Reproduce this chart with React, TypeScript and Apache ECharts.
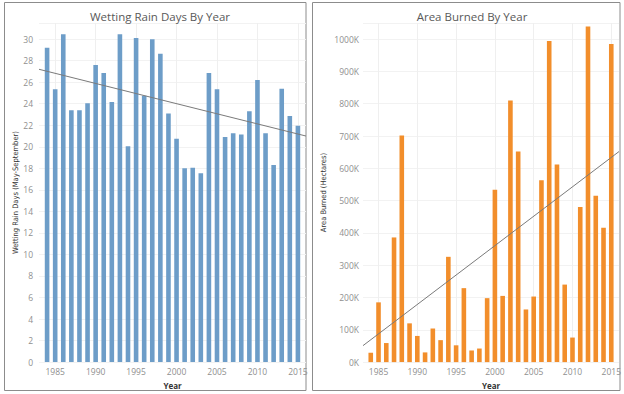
import React, { useEffect, useRef } from 'react';
import * as echarts from 'echarts';

const years = [
  '1984', '1985', '1986', '1987', '1988', '1989', '1990', '1991', '1992', '1993',
  '1994', '1995', '1996', '1997', '1998', '1999', '2000', '2001', '2002', '2003',
  '2004', '2005', '2006', '2007', '2008', '2009', '2010', '2011', '2012', '2013',
  '2014', '2015',
];
const padStart = '1983';
const padEnd = '2016';

const rainDays = [
  29.2, 25.35, 30.45, 23.4, 23.4, 24.05, 27.6, 26.85, 24.15, 30.45,
  20.05, 30.1, 24.75, 30.0, 28.65, 23.1, 20.75, 18.0, 18.05, 17.55,
  26.85, 25.35, 20.9, 21.25, 21.15, 23.3, 26.2, 21.25, 18.3, 25.4,
  22.85, 21.95,
];
const areaBurned = [
  29000, 185000, 59000, 386000, 702000, 120000, 81000, 30000, 104000, 68000,
  326000, 52000, 229000, 36000, 42000, 198000, 534000, 205000, 810000, 652000,
  163000, 203000, 563000, 994000, 612000, 240000, 76000, 480000, 1039000, 515000,
  416000, 985000,
];
// trend line end values at the plot edges (1983 and 2016)
const rainTrend = [27.2, 21.0];
const burnTrend = [51000, 652000];

const rainTitle = 'Wetting Rain Days By Year';
const burnTitle = 'Area Burned By Year';
const rainAxisName = 'Wetting Rain Days (May-September)';
const burnAxisName = 'Area Burned (Hectares)';
const xAxisName = 'Year';

const cats = [padStart, ...years, padEnd];
const padded = (arr: number[]) => [null, ...arr, null];
const trendData = (ends: number[]) =>
  cats.map((_, i) => (i === 0 ? ends[0] : i === cats.length - 1 ? ends[1] : null));

const FONT = '"Open Sans", Lato, sans-serif';
const NARROW = '"Liberation Sans Narrow", "DejaVu Sans Condensed", sans-serif';

export default function App() {
  const ref = useRef<HTMLDivElement>(null);
  useEffect(() => {
    if (!ref.current) return;
    const chart = echarts.init(ref.current, undefined, { renderer: 'svg' });
    const xAxisBase = (gridIndex: number) => ({
      type: 'category',
      gridIndex,
      data: cats,
      boundaryGap: false,
      name: xAxisName,
      nameLocation: 'middle',
      nameGap: 18,
      nameTextStyle: { fontFamily: FONT, fontSize: 8, fontWeight: 'bold', color: '#333' },
      axisLine: { show: false },
      axisTick: { show: false },
      axisLabel: {
        interval: (i: number, v: string) => Number(v) % 5 === 0,
        margin: 5,
        color: '#8f8f8f',
        fontFamily: FONT,
        fontSize: 8.5,
      },
      splitLine: {
        show: true,
        interval: (i: number, v: string) => Number(v) % 5 === 0,
        lineStyle: { color: '#efefef', width: 1 },
      },
    });
    chart.setOption({
      animation: false,
      title: [
        {
          text: rainTitle,
          left: 155,
          top: 5,
          textAlign: 'center',
          textStyle: { fontFamily: FONT, fontSize: 11.5, fontWeight: 'normal', color: '#595959' },
        },
        {
          text: burnTitle,
          left: 467,
          top: 5,
          textAlign: 'center',
          textStyle: { fontFamily: FONT, fontSize: 11.5, fontWeight: 'normal', color: '#595959' },
        },
      ],
      graphic: [
        { type: 'rect', shape: { x: 4.5, y: 2.5, width: 301.5, height: 388 }, style: { fill: 'none', stroke: '#8c8c8c', lineWidth: 1 }, silent: true },
        { type: 'rect', shape: { x: 312.5, y: 2.5, width: 307.5, height: 388 }, style: { fill: 'none', stroke: '#8c8c8c', lineWidth: 1 }, silent: true },
      ],
      grid: [
        { left: 39, top: 23, width: 267, height: 341 },
        { left: 363, top: 23, width: 257, height: 341 },
      ],
      xAxis: [xAxisBase(0), xAxisBase(1)],
      yAxis: [
        {
          type: 'value',
          gridIndex: 0,
          min: 0,
          max: 31.5,
          interval: 2,
          name: rainAxisName,
          nameLocation: 'middle',
          nameGap: 20,
          nameTextStyle: { fontFamily: NARROW, fontSize: 7.5, color: '#333' },
          axisLine: { show: false },
          axisTick: { show: false },
          axisLabel: { showMaxLabel: false, margin: 6, color: '#8f8f8f', fontFamily: FONT, fontSize: 8.5 },
          splitLine: { show: true, lineStyle: { color: '#f2f2f2', width: 1 } },
        },
        {
          type: 'value',
          gridIndex: 1,
          min: 0,
          max: 1050000,
          interval: 100000,
          name: burnAxisName,
          nameLocation: 'middle',
          nameGap: 36,
          nameTextStyle: { fontFamily: NARROW, fontSize: 7.5, color: '#333' },
          axisLine: { show: false },
          axisTick: { show: false },
          axisLabel: {
            showMaxLabel: false,
            margin: 4,
            color: '#8f8f8f',
            fontFamily: FONT,
            fontSize: 8.5,
            formatter: (v: number) => `${Math.round(v / 1000)}K`,
          },
          splitLine: { show: true, lineStyle: { color: '#f2f2f2', width: 1 } },
        },
      ],
      series: [
        {
          type: 'bar',
          xAxisIndex: 0,
          yAxisIndex: 0,
          data: padded(rainDays),
          barWidth: 4.6,
          itemStyle: { color: '#6d9dc8' },
        },
        {
          type: 'line',
          xAxisIndex: 0,
          yAxisIndex: 0,
          data: trendData(rainTrend),
          connectNulls: true,
          symbol: 'none',
          lineStyle: { color: '#7a7a7a', width: 1 },
          z: 5,
        },
        {
          type: 'bar',
          xAxisIndex: 1,
          yAxisIndex: 1,
          data: padded(areaBurned),
          barWidth: 4.6,
          itemStyle: { color: '#f28e2b' },
        },
        {
          type: 'line',
          xAxisIndex: 1,
          yAxisIndex: 1,
          data: trendData(burnTrend),
          connectNulls: true,
          symbol: 'none',
          lineStyle: { color: '#7a7a7a', width: 1 },
          z: 5,
        },
      ],
    });
    return () => chart.dispose();
  }, []);
  return (
    <div
      ref={ref}
      style={{ position: 'absolute', left: 0, top: 0, width: 624, height: 394, background: '#fff' }}
    />
  );
}
